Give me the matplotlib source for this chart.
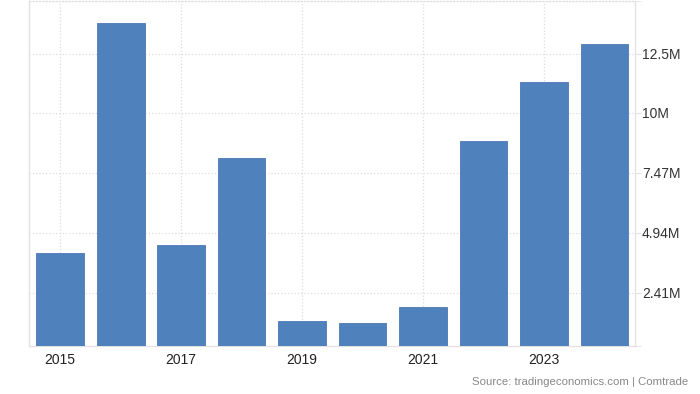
import matplotlib.pyplot as plt
from matplotlib.ticker import FixedLocator

plt.rcParams['font.family'] = ['Liberation Sans', 'DejaVu Sans']

years = [2015, 2016, 2017, 2018, 2019, 2020, 2021, 2022, 2023, 2024]
values = [4.11, 13.78, 4.41, 8.09, 1.24, 1.14, 1.83, 8.83, 11.30, 12.89]  # millions
ytick_vals = [2.41, 4.94, 7.47, 10.0, 12.5]
ytick_labels = ['2.41M', '4.94M', '7.47M', '10M', '12.5M']
xtick_years = [2015, 2017, 2019, 2021, 2023]
source = 'Source: tradingeconomics.com | Comtrade'

bar_color = '#4f81bd'
grid_color = '#dcdcdc'
spine_color = '#e2e2e2'

fig = plt.figure(figsize=(7, 3.94), dpi=100)
ax = fig.add_axes([29 / 700, 48 / 394, 606 / 700, 345 / 394])

ax.bar(years, values, width=0.79, color=bar_color, edgecolor='#4a78b2',
       linewidth=0.6, zorder=3)

ax.set_xlim(years[0] - 0.515, years[-1] + 0.505)
ax.set_ylim(0.17, 14.72)

ax.yaxis.tick_right()
ax.set_yticks(ytick_vals)
ax.set_yticklabels(ytick_labels)
ax.yaxis.set_minor_locator(FixedLocator([0.17, 14.72]))
ax.tick_params(axis='y', which='both', length=4, color=spine_color,
               labelsize=10, labelcolor='#333333', pad=1)
ax.set_xticks(xtick_years)
ax.set_xticklabels([str(y) for y in xtick_years])
ax.tick_params(axis='x', length=0, labelsize=10, labelcolor='#222222', pad=5)

ax.grid(True, color=grid_color, linestyle=':', linewidth=0.9, zorder=0)

for side in ['left', 'right', 'bottom']:
    ax.spines[side].set_color(spine_color)
    ax.spines[side].set_linewidth(1.0)
ax.spines['top'].set_color(grid_color)
ax.spines['top'].set_linestyle(':')
ax.spines['top'].set_linewidth(0.9)

fig.text(688 / 700, 1 - 382 / 394, source, ha='right', va='center',
         fontsize=8.2, color='#888888')

fig.savefig('out.png', dpi=100)
